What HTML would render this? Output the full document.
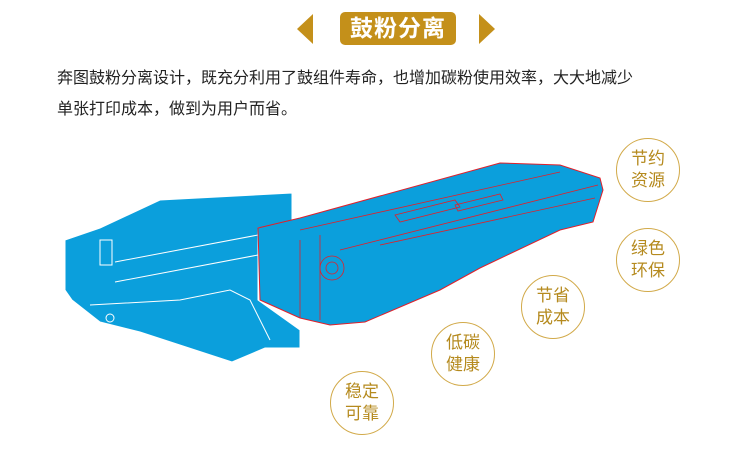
<!DOCTYPE html>
<html><head><meta charset="utf-8"><style>
body{margin:0;width:750px;height:454px;background:#fff;position:relative;overflow:hidden;font-family:"Liberation Sans","Noto Sans CJK SC",sans-serif}
.t{position:absolute;left:340px;top:12px;width:116px;height:33px;background:#c4901a;border-radius:5px;color:#fff;font-size:23px;font-weight:bold;text-align:center;line-height:33px;letter-spacing:1px}
.p{position:absolute;left:57px;font-size:16px;color:#222;white-space:nowrap}
.c{position:absolute;width:62px;height:62px;border:1.5px solid #d2aa4a;border-radius:50%;color:#b58a1e;font-size:17px;line-height:22px;text-align:center;display:flex;align-items:center;justify-content:center}
</style></head><body>
<svg width="750" height="454" style="position:absolute;left:0;top:0">
<polygon points="297,29 313,14 313,44" fill="#c4901a"/>
<polygon points="495,29 479,14 479,44" fill="#c4901a"/>
<polygon points="65,240 100,228 160,200 292,193 292,225 258,228 258,300 300,330 300,348 265,348 232,362 140,332 100,322 72,300 65,290" fill="#0b9fdc" stroke="#fff" stroke-width="1"/>
<g stroke="#fff" stroke-width="1" fill="none"><line x1="115" y1="262" x2="258" y2="235"/><line x1="115" y1="282" x2="258" y2="255"/><path d="M90 305 L180 300 L230 290 L250 300 L270 340"/><rect x="100" y="240" width="12" height="25"/><circle cx="110" cy="318" r="4"/></g>
<polygon points="258,228 300,218 500,163 560,165 600,178 603,190 593,222 560,230 480,268 440,290 365,322 330,325 300,318 260,300" fill="#0b9fdc" stroke="#e0202a" stroke-width="1"/>
<g stroke="#e0202a" stroke-width="0.8" fill="none"><line x1="300" y1="230" x2="560" y2="172"/><line x1="340" y1="250" x2="598" y2="185"/><line x1="380" y1="245" x2="595" y2="198"/><polygon points="395,215 455,200 460,207 400,222"/><polygon points="455,205 500,194 503,200 458,211"/><circle cx="332" cy="268" r="12"/><circle cx="332" cy="268" r="6"/><line x1="300" y1="240" x2="300" y2="318"/><line x1="320" y1="235" x2="320" y2="320"/></g>
</svg>
<div class="t">鼓粉分离</div>
<div class="p" style="top:64px">奔图鼓粉分离设计，既充分利用了鼓组件寿命，也增加碳粉使用效率，大大地减少</div>
<div class="p" style="top:95px">单张打印成本，做到为用户而省。</div>
<div class="c" style="left:616px;top:138px">节约<br>资源</div>
<div class="c" style="left:616px;top:228px">绿色<br>环保</div>
<div class="c" style="left:521px;top:275px">节省<br>成本</div>
<div class="c" style="left:431px;top:322px">低碳<br>健康</div>
<div class="c" style="left:330px;top:371px">稳定<br>可靠</div>
</body></html>
